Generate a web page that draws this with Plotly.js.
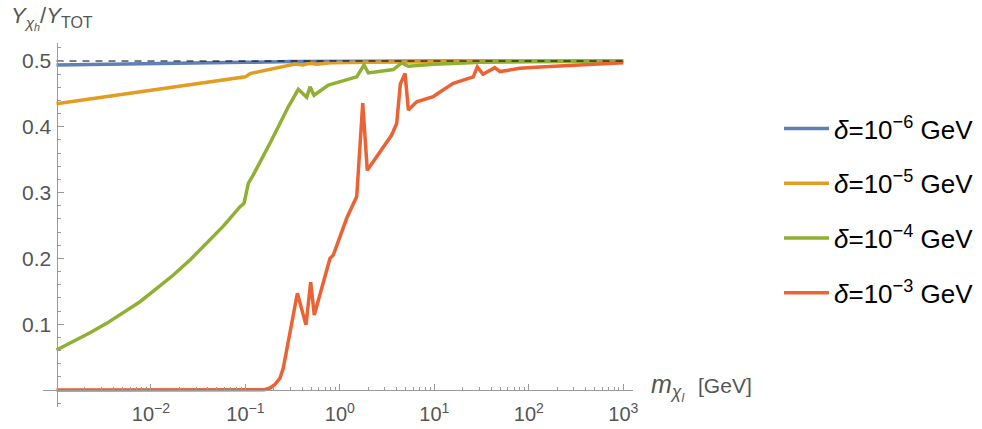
<!DOCTYPE html>
<html>
<head>
<meta charset="utf-8">
<script src="https://cdn.plot.ly/plotly-3.0.1.min.js"></script>
<style>html,body{margin:0;padding:0;background:#fff;}#chart{width:982px;height:429px;}</style>
</head>
<body>
<div id="chart"></div>
<script>
// ---- data (x given as log10 of m_chi_l in GeV, y = Y_chi_h / Y_TOT) ----
const seriesNames = ['<i>δ</i>=10<sup>−6</sup> GeV', '<i>δ</i>=10<sup>−5</sup> GeV', '<i>δ</i>=10<sup>−4</sup> GeV', '<i>δ</i>=10<sup>−3</sup> GeV'];
const seriesColors = ['#5E81B5', '#E19C24', '#8FB032', '#EB6235'];

const log10m_d6 = [-3, -2, -1.5, -1, -0.5, 0, 0.5, 1, 2, 3];
const ratio_d6  = [0.494, 0.4955, 0.4965, 0.498, 0.4993, 0.4998, 0.5, 0.5, 0.5, 0.5];

const log10m_d5 = [-3, -2, -1.5, -1.0, -0.95, -0.475, -0.39, -0.32, -0.245, -0.1, 0.3, 1, 1.5, 2, 3];
const ratio_d5  = [0.435, 0.455, 0.466, 0.476, 0.481, 0.4955, 0.494, 0.4965, 0.495, 0.4975, 0.498, 0.499, 0.4995, 0.5, 0.5];

const log10m_d4 = [-3, -2.822, -2.645, -2.469, -2.293, -2.116, -1.939, -1.763, -1.587, -1.41, -1.234, -1.057, -1.015, -0.969, -0.917, -0.74, -0.546, -0.44, -0.351, -0.316, -0.274, -0.122, 0.178, 0.255, 0.301, 0.566, 0.654, 0.725, 1.0, 1.5, 2, 3];
const ratio_d4  = [0.0608, 0.0734, 0.0871, 0.1013, 0.1175, 0.1342, 0.1545, 0.1748, 0.1976, 0.223, 0.249, 0.2786, 0.2837, 0.314, 0.327, 0.375, 0.4305, 0.457, 0.445, 0.461, 0.448, 0.4635, 0.476, 0.494, 0.482, 0.487, 0.497, 0.492, 0.495, 0.498, 0.499, 0.4995];

const log10m_d3 = [-3, -1.5, -1.0, -0.8, -0.74, -0.69, -0.634, -0.6, -0.563, -0.5, -0.45, -0.359, -0.309, -0.271, -0.105, -0.07, 0.072, 0.178, 0.242, 0.29, 0.548, 0.601, 0.64, 0.69, 0.725, 0.813, 0.989, 1.06, 1.2, 1.412, 1.455, 1.515, 1.64, 1.695, 1.907, 2.12, 2.648, 3];
const ratio_d3  = [0, 0, 0, 0.0005, 0.003, 0.008, 0.018, 0.033, 0.061, 0.109, 0.147, 0.099, 0.164, 0.114, 0.2, 0.205, 0.261, 0.294, 0.436, 0.334, 0.3875, 0.405, 0.465, 0.481, 0.4255, 0.438, 0.446, 0.453, 0.466, 0.476, 0.491, 0.480, 0.490, 0.484, 0.489, 0.491, 0.4955, 0.4975];

// reference line Y = 1/2
const refLineX = [1e-3, 1e3];
const refLineY = [0.5, 0.5];

// ticks
const xTickVals = [1e-2, 1e-1, 1, 10, 100, 1000];
const xTickText = ['10<sup>−2</sup>', '10<sup>−1</sup>', '10<sup>0</sup>', '10<sup>1</sup>', '10<sup>2</sup>', '10<sup>3</sup>'];
const yTickVals = [0, 0.1, 0.2, 0.3, 0.4, 0.5];
const yTickText = ['', '0.1', '0.2', '0.3', '0.4', '0.5'];

const xMinor = [];
for (let e = -3; e <= 2; e++) for (let k = 2; k <= 9; k++) xMinor.push(k * Math.pow(10, e));
const yMinor = [];
for (let i = -1; i <= 26; i++) { if (i % 5 !== 0) yMinor.push(+(i * 0.02).toFixed(2)); }

const toM = arr => arr.map(v => Math.pow(10, v));
const xs = [log10m_d6, log10m_d5, log10m_d4, log10m_d3];
const ys = [ratio_d6, ratio_d5, ratio_d4, ratio_d3];

const FONT = 'Liberation Sans, Arial, sans-serif';
const AX = '#9a9a9a';

const traces = xs.map((x, i) => ({
  x: toM(x), y: ys[i], type: 'scatter', mode: 'lines',
  name: seriesNames[i], legendgroup: 'g' + i,
  line: {color: seriesColors[i], width: 3.5},
  hoverinfo: 'skip'
}));
traces.push({
  x: refLineX, y: refLineY, type: 'scatter', mode: 'lines', showlegend: false,
  line: {color: '#000', width: 1, dash: '7px,6px'}, hoverinfo: 'skip'
});

const xr = [-3.143, 3.103];
const yr = [-0.0258, 0.5274];

const layout = {
  width: 982, height: 429,
  margin: {l: 43, r: 349, t: 43, b: 22, autoexpand: false},
  paper_bgcolor: '#fff', plot_bgcolor: '#fff',
  font: {family: FONT},
  xaxis: {
    type: 'log', range: xr, anchor: 'free',
    position: (0 - yr[0]) / (yr[1] - yr[0]),
    showline: true, linecolor: AX, linewidth: 1,
    ticks: 'inside', ticklen: 6, tickwidth: 1, tickcolor: AX,
    tickmode: 'array', tickvals: xTickVals, ticktext: xTickText,
    tickfont: {family: FONT, size: 20, color: '#555'},
    ticklabelstandoff: 6,
    showgrid: false, zeroline: false,
    minor: {tickmode: 'array', tickvals: xMinor, ticks: 'inside', ticklen: 3, tickwidth: 1, tickcolor: AX, showgrid: false}
  },
  yaxis: {
    range: yr, anchor: 'free',
    position: (-3 - xr[0]) / (xr[1] - xr[0]),
    showline: true, linecolor: AX, linewidth: 1,
    ticks: 'inside', ticklen: 6, tickwidth: 1, tickcolor: AX,
    tickmode: 'array', tickvals: yTickVals, ticktext: yTickText,
    tickfont: {family: FONT, size: 21, color: '#555'},
    ticklabelstandoff: 1,
    showgrid: false, zeroline: false,
    minor: {tickmode: 'array', tickvals: yMinor, ticks: 'inside', ticklen: 3, tickwidth: 1, tickcolor: AX, showgrid: false}
  },
  showlegend: true,
  legend: {
    x: (779 - 43) / 590, y: 1 - (105 - 43) / 364, xanchor: 'left', yanchor: 'top',
    font: {family: FONT, size: 26, color: '#000'},
    traceorder: 'grouped', tracegroupgap: 18, itemwidth: 45,
    bgcolor: 'rgba(0,0,0,0)'
  },
  annotations: [
    {
      xref: 'paper', yref: 'paper', x: (9 - 43) / 590, y: 1 + (43 - 18) / 364,
      xanchor: 'left', yanchor: 'middle', showarrow: false,
      text: '<i>Y</i><sub><i>χ<sub>h</sub></i></sub>/<i>Y</i><sub><span style="font-size:16px">TOT</span></sub>',
      font: {family: FONT, size: 22, color: '#555'}
    },
    {
      xref: 'paper', yref: 'paper', x: (649 - 43) / 590, y: 1 - (387 - 43) / 364,
      xanchor: 'left', yanchor: 'middle', showarrow: false,
      text: '<i>m</i><sub><i>χ<sub>l</sub></i></sub>  <span style="font-size:21px">[GeV]</span>',
      font: {family: FONT, size: 25, color: '#555'}
    }
  ]
};

Plotly.newPlot('chart', traces, layout, {displayModeBar: false, staticPlot: true});
</script>
</body>
</html>
